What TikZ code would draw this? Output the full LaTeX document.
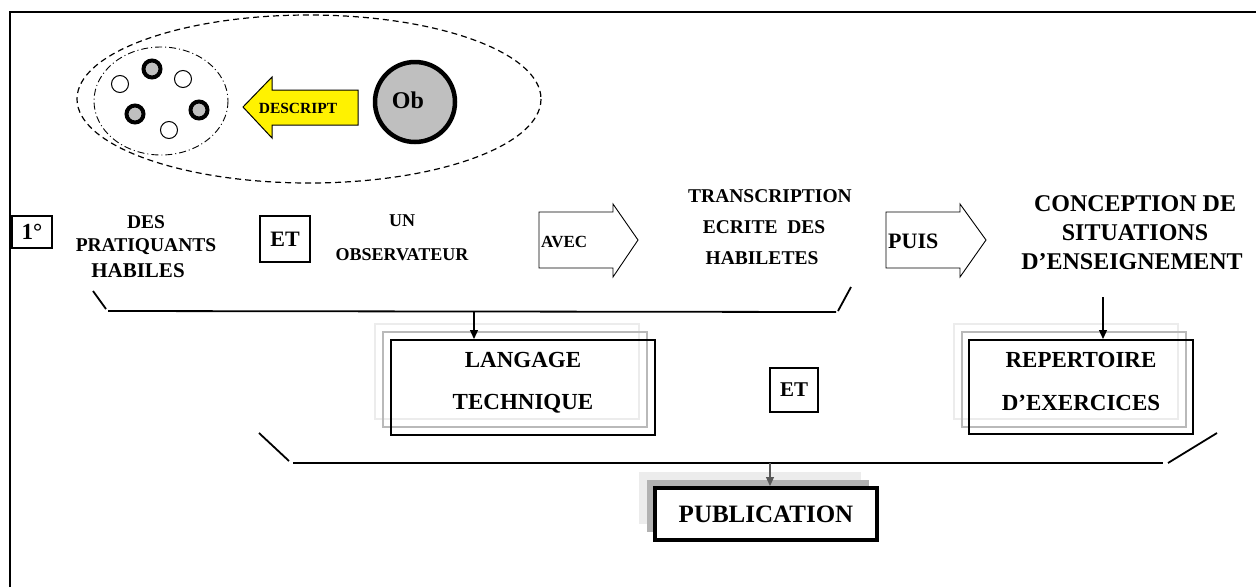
\documentclass[tikz,border=0pt]{standalone}
\usepackage{fontspec}
\setmainfont{Liberation Serif}
\usetikzlibrary{arrows.meta}
\newcommand\fsz[2]{\fontsize{#1}{#2}\selectfont\bfseries}
\tikzset{
  txt/.style={inner sep=0pt, align=center, font=\fsz{#1}{1.2\dimexpr#1pt\relax}},
  bracket/.style={line width=1.8pt},
  frame/.style={line width=1.4pt},
  hollowarrow/.style={draw=black, line width=0.9pt, fill=white},
  blackbox/.style={draw=black, line width=2pt},
  shadowA/.style={draw=gray!15, line width=2pt},
  shadowB/.style={draw=gray!55, line width=2.5pt},
  openc/.style={draw=black, line width=1pt, fill=white},
  boldc/.style={draw=black, line width=4pt, fill=gray!50},
  downarrow/.style={line width=1.2pt, -{Triangle[length=9pt,width=8pt]}},
  smallbox/.style={draw=black, line width=1.2pt, minimum width=#1, inner sep=0pt}
}
\begin{document}
\begin{tikzpicture}[x=1pt,y=-1pt]
\useasboundingbox (0,0) rectangle (1256,587);
% outer frame
\draw[frame] (10,587) -- (10,12) -- (1256,12);

% top group
\draw[line width=1.2pt, dash pattern=on 6pt off 4pt] (309,99) ellipse [x radius=232, y radius=84];
\draw[line width=0.9pt, dash pattern=on 7pt off 3pt on 1pt off 3pt] (161,101) ellipse [x radius=67, y radius=54];
\node[circle, openc, minimum size=17pt, inner sep=0pt] (c1) at (120,84) {};
\node[circle, boldc, minimum size=17pt, inner sep=0pt] (c2) at (152,69) {};
\node[circle, openc, minimum size=17pt, inner sep=0pt] (c3) at (183,79) {};
\node[circle, boldc, minimum size=17pt, inner sep=0pt] (c4) at (135,114) {};
\node[circle, boldc, minimum size=17pt, inner sep=0pt] (c5) at (199,110) {};
\node[circle, openc, minimum size=17pt, inner sep=0pt] (c6) at (169,130) {};

\draw[line width=1pt, fill=yellow] (243,107) -- (272,77) -- (272,90) -- (358,90) -- (358,125) -- (272,125) -- (272,138) -- cycle;
\node[txt=15.5] (descript) at (298,108) {DESCRIPT};

\node[circle, draw=black, line width=4.5pt, fill=gray!50, minimum size=80pt, inner sep=0pt] (ob) at (415,102) {};
\node[txt=24] (obt) at (408,100) {Ob};

% second row
\node[smallbox=40pt, minimum height=32pt, txt=23] (first) at (32,232) {1°};
\node[txt=19.5] (des) at (146,222) {DES};
\node[txt=19.5] (prat) at (146,247) {PRATIQUANTS};
\node[txt=21] (hab) at (138,271) {HABILES};
\node[smallbox=50pt, minimum height=46pt, txt=22] (et1) at (285,239) {ET};
\node[txt=18] (un) at (402,221) {UN};
\node[txt=18] (obs) at (402,255) {OBSERVATEUR};

\draw[hollowarrow] (539,212) -- (613,212) -- (613,204) -- (638,240) -- (613,277) -- (613,268) -- (539,268) -- cycle;
\node[txt=17, anchor=west] (avec) at (541,242) {AVEC};

\node[txt=19.5] (tr1) at (770,196) {TRANSCRIPTION};
\node[txt=19.5] (tr2) at (764,227) {ECRITE\ \ DES};
\node[txt=19.5] (tr3) at (762,258) {HABILETES};

\draw[hollowarrow] (886,212) -- (960,212) -- (960,204) -- (986,240) -- (960,277) -- (960,268) -- (886,268) -- cycle;
\node[txt=22, anchor=west] (puis) at (888,241) {PUIS};

\node[txt=24] (con1) at (1135,204) {CONCEPTION DE};
\node[txt=24] (con2) at (1135,233) {SITUATIONS};
\node[txt=24] (con3) at (1132,262) {D’ENSEIGNEMENT};

% first bracket
\draw[bracket] (93,291) -- (106,309);
\draw[bracket] (108,311) -- (836,312);
\draw[bracket] (838,311) -- (851,287);
\coordinate (b1) at (474,312);

% LANGAGE TECHNIQUE
\draw[shadowA] (375,324) rectangle (639,419);
\draw[shadowB] (383,332) rectangle (647,427);
\node[blackbox, minimum width=264pt, minimum height=95pt, inner sep=0pt] (lang) at (523,387.5) {};
\node[txt=23] (lang1) at (523,360) {LANGAGE};
\node[txt=23] (lang2) at (523,404) {TECHNIQUE};
\draw[downarrow] (b1) -- (b1 |- lang.north);

\node[smallbox=48pt, minimum height=44pt, txt=21] (et2) at (794,390) {ET};

% REPERTOIRE
\draw[shadowA] (954,324) rectangle (1178,419);
\draw[shadowB] (962,332) rectangle (1186,427);
\node[blackbox, minimum width=224pt, minimum height=94pt, inner sep=0pt] (rep) at (1081,387) {};
\node[txt=23] (rep1) at (1081,360) {REPERTOIRE};
\node[txt=23] (rep2) at (1081,403) {D’EXERCICES};
\coordinate (cs) at (1103,297);
\draw[downarrow] (cs) -- (cs |- rep.north);

% second bracket
\draw[bracket] (259,433) -- (289,461);
\draw[bracket] (293,463) -- (1163,463);
\draw[bracket] (1168,463) -- (1217,433);
\coordinate (b2) at (770,463);

% PUBLICATION
\fill[gray!15] (639,472) rectangle (861,524);
\fill[gray!60] (647,480) rectangle (869,532);
\node[draw=black, line width=4pt, fill=white, minimum width=222pt, minimum height=52pt, inner sep=0pt] (pub) at (766,514) {};
\node[txt=25] (pubt) at (766,514) {PUBLICATION};
\draw[line width=1.2pt, draw=gray!70!black, -{Triangle[length=9pt,width=8pt]}] (b2) -- (b2 |- pub.north);
\end{tikzpicture}
\end{document}
